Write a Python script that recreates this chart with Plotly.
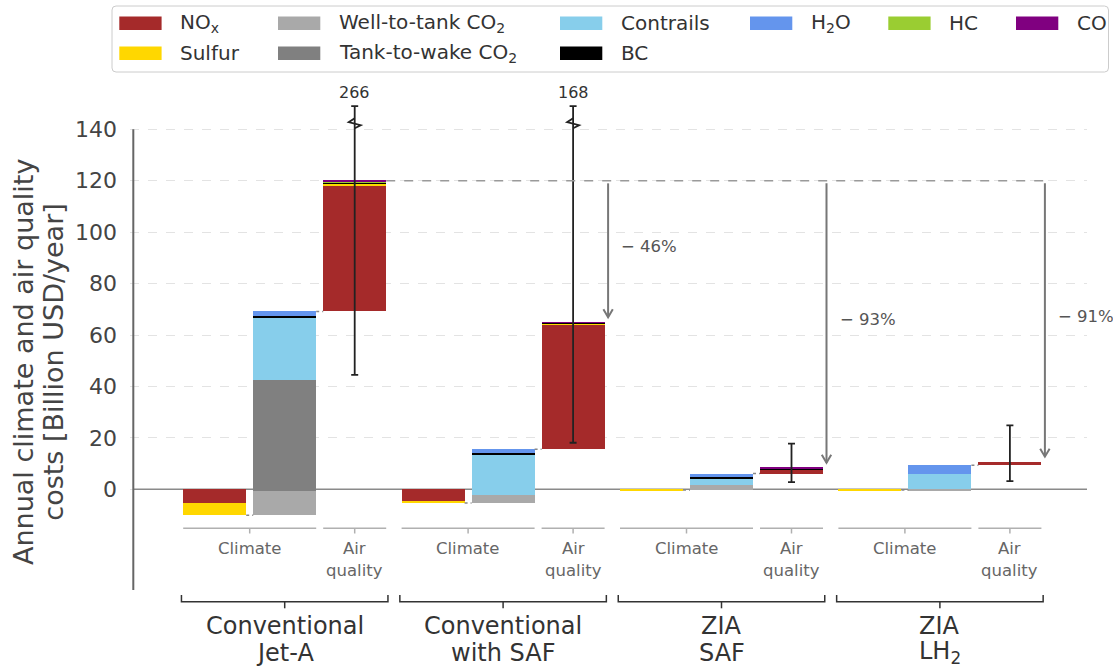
import plotly.graph_objects as go

# ---------------- data: annual costs, Billion USD / year ----------------
scenario_names = [
    ["Conventional", "Jet-A"],
    ["Conventional", "with SAF"],
    ["ZIA", "SAF"],
    ["ZIA", "LH<sub>2</sub>"],
]

# climate impacts (negative = cooling)
climate_nox = [-5.2, -4.9, 0.0, 0.0]
climate_sulfur = [-4.9, -0.4, -0.3, -0.3]
climate_wtt_co2 = [9.5, 3.1, 2.0, 0.6]
climate_ttw_co2 = [43.2, 0.0, 0.0, 0.0]
climate_contrails = [24.4, 15.9, 2.5, 5.8]
climate_bc = [0.6, 0.5, 0.4, 0.0]
climate_h2o = [1.6, 1.4, 1.5, 3.3]

# air-quality impacts
aq_nox = [48.8, 48.5, 1.5, 1.3]
aq_sulfur = [1.0, 0.4, 0.2, 0.0]
aq_bc = [0.5, 0.2, 0.1, 0.0]
aq_hc = [0.2, 0.1, 0.2, 0.0]
aq_co = [0.3, 0.1, 0.2, 0.0]

# uncertainty range of the cumulative total
aq_low = [44.5, 18.1, 2.8, 3.2]
aq_high = [266, 168, 17.8, 24.9]

series_keys = ["nox", "sulfur", "wtt", "ttw", "contrails", "bc", "h2o", "hc", "co"]
series_labels = {
    "nox": "NO<sub>x</sub>", "sulfur": "Sulfur",
    "wtt": "Well-to-tank CO<sub>2</sub>", "ttw": "Tank-to-wake CO<sub>2</sub>",
    "contrails": "Contrails", "bc": "BC", "h2o": "H<sub>2</sub>O",
    "hc": "HC", "co": "CO",
}
series_colors = {
    "nox": "#A52A2A", "sulfur": "#FFD700", "wtt": "#A9A9A9", "ttw": "#808080",
    "contrails": "#87CEEB", "bc": "#000000", "h2o": "#6495ED",
    "hc": "#9ACD32", "co": "#800080",
}

# stacking order of each bar in a scenario
climate_neg_stack = [("nox", climate_nox), ("sulfur", climate_sulfur)]
climate_pos_stack = [("wtt", climate_wtt_co2), ("ttw", climate_ttw_co2),
                     ("contrails", climate_contrails), ("bc", climate_bc),
                     ("h2o", climate_h2o)]
aq_stack = [("nox", aq_nox), ("sulfur", aq_sulfur), ("bc", aq_bc),
            ("hc", aq_hc), ("co", aq_co)]

# ---------------- geometry ----------------
W, H = 1113, 668
M_L, M_R, M_T, M_B = 130, 26, 80, 0
PX_X = 70.0        # pixels per x unit
PX_Y = 2.571       # pixels per Billion USD
X0_PX, Y0_PX = 214.7, 489.3
X_RANGE = [(M_L - X0_PX) / PX_X, (W - M_R - X0_PX) / PX_X]
Y_RANGE = [(Y0_PX - (H - M_B)) / PX_Y, (Y0_PX - M_T) / PX_Y]
PLOT_W, PLOT_H = W - M_L - M_R, H - M_T - M_B

BAR_W = 0.9
GROUP_STEP = 3.12
DISPLAY_TOP = 149.0   # error bars above this are cut with a break mark
BREAK_AT = 142.4
FONT = "DejaVu Sans"


def xd(px):
    return (px - X0_PX) / PX_X


def yd(py):
    return (Y0_PX - py) / PX_Y


def xp(px):
    return (px - M_L) / PLOT_W


def yp(py):
    return (H - M_B - py) / PLOT_H


def slot(g, k):
    return g * GROUP_STEP + k


# ---------------- waterfall segments ----------------
segments = {k: {"x": [], "base": [], "y": []} for k in series_keys}
bar1_bottom, climate_top, aq_top = [], [], []
for g in range(len(scenario_names)):
    level = 0.0
    for stack, k_slot in ((climate_neg_stack, 0), (climate_pos_stack, 1), (aq_stack, 2)):
        for key, vals in stack:
            v = vals[g]
            if v == 0:
                continue
            segments[key]["x"].append(slot(g, k_slot))
            segments[key]["base"].append(level)
            segments[key]["y"].append(v)
            level += v
        if k_slot == 0:
            bar1_bottom.append(level)
        elif k_slot == 1:
            climate_top.append(level)
        else:
            aq_top.append(level)

fig = go.Figure()
for key in series_keys:
    s = segments[key]
    if not s["x"]:
        continue
    fig.add_trace(go.Bar(
        x=s["x"], y=s["y"], base=s["base"], width=BAR_W,
        marker=dict(color=series_colors[key], line=dict(width=0)),
        name=series_labels[key], showlegend=False, hoverinfo="skip",
    ))

# error bars on the cumulative totals
aq_x = [slot(g, 2) for g in range(len(scenario_names))]
fig.add_trace(go.Scatter(
    x=aq_x, y=aq_top, mode="markers",
    marker=dict(color="rgba(0,0,0,0)", size=1),
    error_y=dict(type="data", symmetric=False,
                 array=[min(h, DISPLAY_TOP) - t for h, t in zip(aq_high, aq_top)],
                 arrayminus=[t - lo for t, lo in zip(aq_top, aq_low)],
                 color="#222222", thickness=1.8, width=3.5),
    showlegend=False, hoverinfo="skip",
))

shapes, annotations = [], []

# y axis spine (drawn only over the data range)
axis_x = xd(133.3)
shapes.append(dict(type="line", xref="x", yref="y", x0=axis_x, x1=axis_x,
                   y0=yd(590), y1=140, line=dict(color="#666666", width=2), layer="above"))
# zero line
shapes.append(dict(type="line", xref="x", yref="y", x0=axis_x, x1=X_RANGE[1],
                   y0=0, y1=0, line=dict(color="#8a8a8a", width=1.5), layer="between"))

ref_top = aq_top[0]
for g in range(len(scenario_names)):
    left = slot(g, 0) - BAR_W / 2
    clim_right = slot(g, 1) + BAR_W / 2
    aq_left = slot(g, 2) - BAR_W / 2
    aq_right = slot(g, 2) + BAR_W / 2

    # dotted connectors between consecutive bars
    for xa, xb, lv in ((slot(g, 0) + BAR_W / 2, slot(g, 1) - BAR_W / 2, bar1_bottom[g]),
                       (clim_right, aq_left, climate_top[g])):
        shapes.append(dict(type="line", xref="x", yref="y", x0=xa, x1=xb, y0=lv, y1=lv,
                           line=dict(color="#888888", width=1.5, dash="dot")))

    # sub-axis lines for Climate / Air quality
    y_sub = yd(528.3)
    y_subtick = yd(533.5)
    for xa, xb in ((left, clim_right), (aq_left, aq_right)):
        xm = (xa + xb) / 2
        shapes.append(dict(type="line", xref="x", yref="y", x0=xa, x1=xb, y0=y_sub, y1=y_sub,
                           line=dict(color="#b0b0b0", width=1.5)))
        shapes.append(dict(type="line", xref="x", yref="y", x0=xm, x1=xm, y0=y_sub, y1=y_subtick,
                           line=dict(color="#b0b0b0", width=1.5)))
    sub_font = dict(family=FONT, size=16.5, color="#666666")
    annotations.append(dict(x=(left + clim_right) / 2, y=yd(548.5), xref="x", yref="y",
                            text="Climate", showarrow=False, font=sub_font,
                            xanchor="center", yanchor="middle"))
    annotations.append(dict(x=slot(g, 2), y=yd(548.5), xref="x", yref="y",
                            text="Air", showarrow=False, font=sub_font,
                            xanchor="center", yanchor="middle"))
    annotations.append(dict(x=slot(g, 2), y=yd(570), xref="x", yref="y",
                            text="quality", showarrow=False, font=sub_font,
                            xanchor="center", yanchor="middle"))

    # scenario bracket
    bl, br = left - 0.025, aq_right + 0.025
    bm = (bl + br) / 2
    y_br = yd(601.7)
    shapes.append(dict(type="path", xref="x", yref="y",
                       path=f"M{bl},{yd(595)} L{bl},{y_br} L{br},{y_br} L{br},{yd(595)}",
                       line=dict(color="#333333", width=1.5)))
    shapes.append(dict(type="line", xref="x", yref="y", x0=bm, x1=bm, y0=y_br, y1=yd(608.3),
                       line=dict(color="#333333", width=1.5)))
    name_font = dict(family=FONT, size=24, color="#333333")
    for line_txt, py in zip(scenario_names[g], (626.0, 652.5)):
        annotations.append(dict(x=bm, y=yd(py), xref="x", yref="y", text=line_txt,
                                showarrow=False, font=name_font, borderpad=0,
                                xanchor="center", yanchor="middle"))

    # error bar break mark and value label for out-of-range highs
    if aq_high[g] > DISPLAY_TOP:
        cx = slot(g, 2)
        ux, uy = 1 / PX_X, 1 / PX_Y
        zig = (f"M{cx},{BREAK_AT + 5 * uy} L{cx - 6 * ux},{BREAK_AT + 1 * uy} "
               f"L{cx + 6 * ux},{BREAK_AT - 2 * uy} L{cx},{BREAK_AT - 5 * uy}")
        shapes.append(dict(type="path", xref="x", yref="y", path=zig,
                           line=dict(color="#222222", width=1.8)))
        annotations.append(dict(x=cx, y=DISPLAY_TOP, xref="x", yref="y",
                                text=f"{aq_high[g]:g}", showarrow=False, yshift=2,
                                font=dict(family=FONT, size=16, color="#333333"),
                                xanchor="center", yanchor="bottom"))

    # reduction arrows relative to the reference total
    if g > 0:
        xa = aq_right + 0.05
        y_start = ref_top - 1.0
        tip = aq_top[g] + 2.0
        shapes.append(dict(type="line", xref="x", yref="y", x0=xa, x1=xa, y0=y_start, y1=tip,
                           line=dict(color="#777777", width=2)))
        hx, hy = 4.7 / PX_X, 8.0 / PX_Y
        shapes.append(dict(type="path", xref="x", yref="y",
                           path=f"M{xa - hx},{tip + hy} L{xa},{tip} L{xa + hx},{tip + hy}",
                           line=dict(color="#777777", width=2)))
        pct = round(100 * (1 - aq_top[g] / ref_top))
        annotations.append(dict(x=xa + 0.13, y=(y_start + tip) / 2 + 1.5, xref="x", yref="y",
                                text=f"\u2212 {pct}%", showarrow=False,
                                font=dict(family=FONT, size=16.5, color="#555555"),
                                bgcolor="white", borderpad=3,
                                xanchor="left", yanchor="middle"))

# dashed reference level
shapes.append(dict(type="line", xref="x", yref="y",
                   x0=slot(0, 2) + BAR_W / 2, x1=slot(3, 2) + BAR_W / 2 + 0.05,
                   y0=ref_top, y1=ref_top,
                   line=dict(color="#9a9a9a", width=1.5, dash="dash")))

# y-axis title (two lines)
title_font = dict(family=FONT, size=27, color="#444444")
for txt, px in (("Annual climate and air quality", 23.3), ("costs [Billion USD/year]", 54.0)):
    annotations.append(dict(x=xp(px), y=yp(361.7), xref="paper", yref="paper", text=txt,
                            textangle=-90, showarrow=False, font=title_font,
                            xanchor="center", yanchor="middle"))

# legend box
lx0, lx1, ly0, ly1, r = 112, 1108.5, 6, 72, 4
legend_path = (f"M{xp(lx0 + r)},{yp(ly0)} L{xp(lx1 - r)},{yp(ly0)} "
               f"Q{xp(lx1)},{yp(ly0)} {xp(lx1)},{yp(ly0 + r)} L{xp(lx1)},{yp(ly1 - r)} "
               f"Q{xp(lx1)},{yp(ly1)} {xp(lx1 - r)},{yp(ly1)} L{xp(lx0 + r)},{yp(ly1)} "
               f"Q{xp(lx0)},{yp(ly1)} {xp(lx0)},{yp(ly1 - r)} L{xp(lx0)},{yp(ly0 + r)} "
               f"Q{xp(lx0)},{yp(ly0)} {xp(lx0 + r)},{yp(ly0)} Z")
shapes.append(dict(type="path", xref="paper", yref="paper", path=legend_path,
                   line=dict(color="#cccccc", width=1), fillcolor="rgba(255,255,255,0.9)"))
legend_columns = [["nox", "sulfur"], ["wtt", "ttw"], ["contrails", "bc"], ["h2o"], ["hc"], ["co"]]
col_px = [119.3, 278, 560, 750, 888.3, 1016]
row_px = [23.3, 53.3]
for col, cx in zip(legend_columns, col_px):
    for key, cy in zip(col, row_px):
        shapes.append(dict(type="rect", xref="paper", yref="paper",
                           x0=xp(cx), x1=xp(cx + 42.3), y0=yp(cy - 6.7), y1=yp(cy + 6.7),
                           fillcolor=series_colors[key], line=dict(width=0)))
        annotations.append(dict(x=xp(cx + 58.7), y=yp(cy), xref="paper", yref="paper",
                                text=series_labels[key], showarrow=False,
                                font=dict(family=FONT, size=20, color="#333333"),
                                xanchor="left", yanchor="middle"))

fig.update_layout(
    width=W, height=H,
    margin=dict(l=M_L, r=M_R, t=M_T, b=M_B, pad=0),
    paper_bgcolor="white", plot_bgcolor="white",
    barmode="overlay", bargap=0,
    showlegend=False,
    xaxis=dict(range=X_RANGE, visible=False, fixedrange=True),
    yaxis=dict(range=Y_RANGE, tickmode="array", tickvals=list(range(0, 141, 20)),
               showgrid=True, gridcolor="#e3e3e3", griddash="dash", gridwidth=1,
               zeroline=False, showline=False, ticks="", ticklabelstandoff=12,
               tickfont=dict(family=FONT, size=22, color="#444444")),
    shapes=shapes, annotations=annotations,
)

fig.write_html("out.html")
